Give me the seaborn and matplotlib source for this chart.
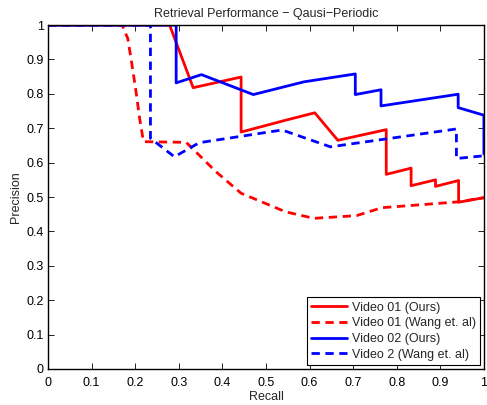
import pandas as pd
import seaborn as sns
import matplotlib.pyplot as plt

# Values
v1_ours_recall = [0.0, 0.279, 0.333, 0.443, 0.443, 0.550, 0.612, 0.665, 0.776, 0.776, 0.833, 0.833, 0.889, 0.889, 0.942, 0.942, 1.0]
v1_ours_prec = [1.0, 1.0, 0.818, 0.849, 0.689, 0.725, 0.745, 0.665, 0.696, 0.566, 0.584, 0.533, 0.550, 0.531, 0.548, 0.485, 0.498]

v1_wang_recall = [0.0, 0.170, 0.183, 0.192, 0.202, 0.210, 0.219, 0.317, 0.385, 0.443, 0.545, 0.610, 0.708, 0.766, 0.942, 1.0]
v1_wang_prec = [1.0, 1.0, 0.961, 0.89, 0.806, 0.73, 0.661, 0.659, 0.574, 0.511, 0.457, 0.438, 0.446, 0.469, 0.486, 0.498]

v2_ours_recall = [0.0, 0.294, 0.294, 0.352, 0.471, 0.587, 0.705, 0.705, 0.764, 0.764, 0.941, 0.941, 1.0, 1.0]
v2_ours_prec = [1.0, 1.0, 0.832, 0.856, 0.798, 0.835, 0.858, 0.798, 0.812, 0.765, 0.799, 0.760, 0.738, 0.625]

v2_wang_recall = [0.0, 0.235, 0.235, 0.290, 0.347, 0.537, 0.648, 0.937, 0.937, 1.0]
v2_wang_prec = [1.0, 1.0, 0.671, 0.617, 0.658, 0.695, 0.646, 0.698, 0.612, 0.620]

labels = ['Video 01 (Ours)', 'Video 01 (Wang et. al)', 'Video 02 (Ours)', 'Video 2 (Wang et. al)']
colors = ['red', 'red', 'blue', 'blue']
dashed = [False, True, False, True]

series = [(v1_ours_recall, v1_ours_prec), (v1_wang_recall, v1_wang_prec),
          (v2_ours_recall, v2_ours_prec), (v2_wang_recall, v2_wang_prec)]

sns.set_style('ticks')
plt.rcParams['font.family'] = ['Liberation Sans', 'DejaVu Sans']
plt.rcParams['font.size'] = 9

fig = plt.figure(figsize=(4.87, 4.05), dpi=100)
ax = fig.add_axes([0.0986, 0.089, 0.895, 0.849])

for (r, p), lab, c, d in zip(series, labels, colors, dashed):
    df = pd.DataFrame({'Recall': r, 'Precision': p})
    sns.lineplot(data=df, x='Recall', y='Precision', sort=False, estimator=None,
                 ax=ax, color=c, linewidth=2.0, label=lab)
    if d:
        ax.lines[-1].set_dashes((3, 2))

ax.set_xlim(0, 1)
ax.set_ylim(0, 1)
ticks = [i / 10 for i in range(11)]
tick_labels = ['0', '0.1', '0.2', '0.3', '0.4', '0.5', '0.6', '0.7', '0.8', '0.9', '1']
ax.set_xticks(ticks)
ax.set_yticks(ticks)
ax.set_xticklabels(tick_labels)
ax.set_yticklabels(tick_labels)
ax.tick_params(direction='in', top=True, right=True, length=4, width=0.6, labelsize=9, pad=3, colors='black')
ax.tick_params(axis='x', pad=6)
for s in ax.spines.values():
    s.set_visible(True)
    s.set_linewidth(1.0)
    s.set_color('black')

ax.set_xlabel('Recall', fontsize=9, labelpad=1)
ax.set_ylabel('Precision', fontsize=9, labelpad=3)
ax.set_title('Retrieval Performance \u2212 Qausi\u2212Periodic', fontsize=9, pad=6)

leg = ax.legend(loc='lower right', fontsize=9, frameon=True, fancybox=False,
                handlelength=2.9, borderpad=0.35, labelspacing=0.3, handletextpad=0.35,
                borderaxespad=0.3, edgecolor='black', framealpha=1)
leg.get_frame().set_linewidth(0.8)

fig.savefig('out.png', dpi=100)
